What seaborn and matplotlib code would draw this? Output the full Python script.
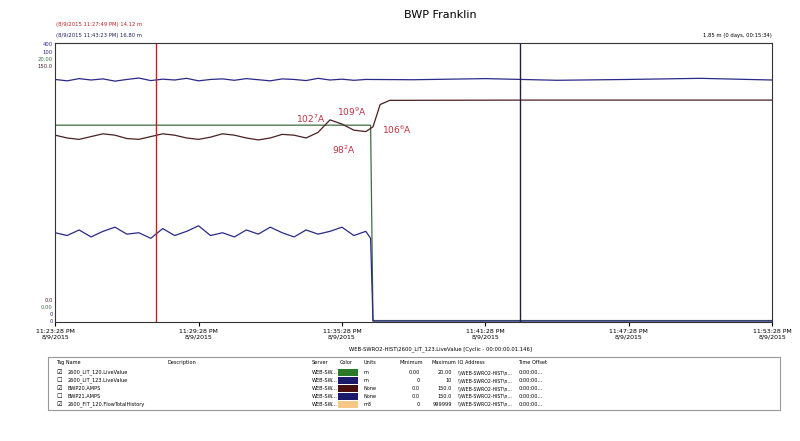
import numpy as np
import pandas as pd
import seaborn as sns
import matplotlib.pyplot as plt
from matplotlib.patches import Rectangle

# minutes after 11:23:28 PM, values as % of each pen's span
t_half = [i * 0.5 for i in range(27)]  # 0 .. 13 min
amps = [67.0, 66.0, 65.5, 66.5, 67.5, 67.0, 65.8, 65.5, 66.5, 67.5, 67.0, 66.0, 65.5, 66.3,
        67.5, 67.0, 66.0, 65.3, 66.0, 67.3, 67.0, 66.0, 68.0, 72.5, 71.0, 68.8, 68.3]
amps_t_after = [13.3, 13.6, 14.0, 20.0, 30.0]
amps_after = [70.0, 78.0, 79.5, 79.6, 79.6]

top_blue = [87.0, 86.5, 87.3, 86.8, 87.2, 86.4, 87.0, 87.5, 86.6, 87.1, 86.8, 87.4, 86.5, 87.0,
            87.2, 86.7, 87.3, 86.9, 86.5, 87.2, 87.0, 86.6, 87.4, 86.8, 87.1, 86.7, 87.0]
top_blue_t_after = [15.0, 18.0, 21.0, 24.0, 27.0, 30.0]
top_blue_after = [86.9, 87.3, 86.7, 87.0, 87.4, 86.8]

low_blue = [32.0, 31.0, 33.0, 30.5, 32.5, 34.0, 31.5, 32.0, 30.0, 33.5, 31.0, 32.5, 34.5, 31.0,
            32.0, 30.5, 33.0, 31.5, 34.0, 32.0, 30.5, 33.0, 31.5, 32.5, 34.0, 31.0, 32.5]
low_t_after = [13.2, 13.3, 30.0]
low_after = [30.0, 0.3, 0.3]

green_t = [0.0, 13.2, 13.3, 30.0]
green = [70.6, 70.6, 0.5, 0.5]

tick_min = [0, 6, 12, 18, 24, 30]
tick_labels = ["11:23:28 PM\n8/9/2015", "11:29:28 PM\n8/9/2015", "11:35:28 PM\n8/9/2015",
               "11:41:28 PM\n8/9/2015", "11:47:28 PM\n8/9/2015", "11:53:28 PM\n8/9/2015"]
cursor_red, cursor_black = 4.2, 19.45

fig = plt.figure(figsize=(8, 4.41), dpi=100)
ax = fig.add_axes([0.069, 0.27, 0.896, 0.632])

sns.lineplot(x=t_half + top_blue_t_after, y=top_blue + top_blue_after, ax=ax, color="#2a2a8a", lw=0.9)
sns.lineplot(x=green_t, y=green, ax=ax, color="#3f6f3f", lw=0.9)
sns.lineplot(x=t_half + amps_t_after, y=amps + amps_after, ax=ax, color="#4a2020", lw=0.9)
sns.lineplot(x=t_half + low_t_after, y=low_blue + low_after, ax=ax, color="#2a2a8a", lw=0.9)
ax.axvline(cursor_red, color="#c02020", lw=1)
ax.axvline(cursor_black, color="#202040", lw=1)

ax.set_xlim(0, 30)
ax.set_ylim(0, 100)
ax.set_xticks(tick_min)
ax.set_xticklabels(tick_labels, fontsize=4.5)
ax.set_yticks([])
ax.tick_params(axis="x", length=3, pad=2)
for s in ax.spines.values():
    s.set_color("#333333")
    s.set_linewidth(0.8)

# stacked pen scales
for i, (txt, c) in enumerate([("400", "#2a2a8a"), ("100", "#2a2a8a"), ("20.00", "#3f6f3f"), ("150.0", "#4a2020")]):
    fig.text(0.066, 0.898 - i * 0.016, txt, fontsize=3.8, ha="right", va="center", color=c)
for i, (txt, c) in enumerate([("0.0", "#4a2020"), ("0.00", "#3f6f3f"), ("0", "#2a2a8a"), ("0", "#2a2a8a")]):
    fig.text(0.066, 0.318 - i * 0.016, txt, fontsize=3.8, ha="right", va="center", color=c)

fig.text(0.55, 0.965, "BWP Franklin", fontsize=8, ha="center", va="center")
fig.text(0.07, 0.94, "(8/9/2015 11:27:49 PM) 14.12 m", fontsize=3.8, color="#c02020")
fig.text(0.07, 0.915, "(8/9/2015 11:43:23 PM) 16.80 m", fontsize=3.8, color="#202060")
fig.text(0.965, 0.915, "1.85 m (0 days, 00:15:34)", fontsize=3.8, ha="right")

# handwritten notes
for x, y, s in [(10.7, 73.0, "102$^7$A"), (12.1, 61.6, "98$^2$A"), (12.4, 75.5, "109$^9$A"), (14.3, 68.8, "106$^6$A")]:
    ax.text(x, y, s, fontsize=6.5, color="#c03040", ha="center", va="center")

# legend table
fig.text(0.55, 0.205, "WEB-SWRO2-HIST\\2600_LIT_123.LiveValue [Cyclic - 00:00:00.01.146]", fontsize=3.8, ha="center")
fig.patches.append(Rectangle((0.06, 0.07), 0.915, 0.12, transform=fig.transFigure,
                             fill=False, ec="#999999", lw=0.8))
cols = [(0.07, "Tag Name"), (0.21, "Description"), (0.39, "Server"), (0.425, "Color"), (0.455, "Units"),
        (0.50, "Minimum"), (0.54, "Maximum"), (0.572, "IO Address"), (0.648, "Time Offset")]
for x, s in cols:
    fig.text(x, 0.175, s, fontsize=3.6)
rows = [("2600_LIT_120.LiveValue", "#2a7a2a", "m", "0.00", "20.00", True),
        ("2600_LIT_123.LiveValue", "#1a1a6a", "m", "0", "10", False),
        ("BWP20.AMPS", "#4a1010", "None", "0.0", "150.0", True),
        ("BWP21.AMPS", "#1a1a6a", "None", "0.0", "150.0", False),
        ("2600_FIT_120.FlowTotalHistory", "#f5c88a", "m3", "0", "999999", True)]
for i, (name, c, u, mn, mx, chk) in enumerate(rows):
    y = 0.155 - i * 0.018
    fig.text(0.07, y, "\u2611" if chk else "\u2610", fontsize=4.5, va="center")
    fig.text(0.085, y, name, fontsize=3.6, va="center")
    fig.text(0.39, y, "WEB-SW...", fontsize=3.6, va="center")
    fig.patches.append(Rectangle((0.422, y - 0.008), 0.025, 0.016, transform=fig.transFigure, fc=c, ec="none"))
    fig.text(0.455, y, u, fontsize=3.6, va="center")
    fig.text(0.525, y, mn, fontsize=3.6, va="center", ha="right")
    fig.text(0.565, y, mx, fontsize=3.6, va="center", ha="right")
    fig.text(0.572, y, "\\\\WEB-SWRO2-HIST\\n...", fontsize=3.3, va="center")
    fig.text(0.648, y, "0:00:00...", fontsize=3.6, va="center")

fig.savefig("out.png", dpi=100)
